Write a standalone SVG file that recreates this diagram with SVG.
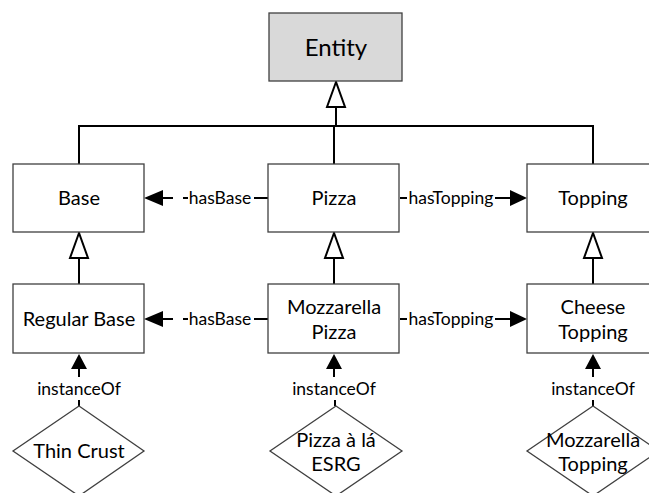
<svg xmlns="http://www.w3.org/2000/svg" width="649" height="493" viewBox="0 0 649 493">
  <style>
    .box { fill: #ffffff; stroke: #404040; stroke-width: 1.3; }
    .entity { fill: #d9d9d9; stroke: #404040; stroke-width: 1.3; }
    .lbl { font-family: Lato, "Liberation Sans", sans-serif; font-size: 20px; fill: #000; text-anchor: middle; }
    .big { font-size: 24px; }
    .elbl { font-family: Lato, "Liberation Sans", sans-serif; font-size: 17.5px; fill: #000; text-anchor: middle; }
    .wire { fill: none; stroke: #000; stroke-width: 2; }
    .gen { fill: #ffffff; stroke: #000; stroke-width: 2; stroke-linejoin: miter; }
    .head { fill: #000; stroke: none; }
  </style>
  <rect width="649" height="493" fill="#ffffff"/>

  <g id="connectors">
    <!-- generalisation to Entity -->
    <path class="wire" d="M79 164 V126 H593 V164"/>
    <path class="wire" d="M336 107 V127 M334 126 V164"/>
    <polygon class="gen" points="336,82 327,107 345,107"/>

    <!-- generalisation between class rows -->
    <path class="wire" d="M79 258 V284 M334 258 V284 M593 258 V284"/>
    <polygon class="gen" points="79,233 70,258 88,258"/>
    <polygon class="gen" points="334,233 325,258 343,258"/>
    <polygon class="gen" points="593,233 584,258 602,258"/>

    <!-- hasBase (top row) -->
    <path class="wire" d="M162 198 H173 M183 198 H188 M254 198 H268"/>
    <polygon class="head" points="144,198 163,190 163,206"/>
    <text class="elbl" x="220" y="204">hasBase</text>

    <!-- hasTopping (top row) -->
    <path class="wire" d="M400 198 H407 M495 198 H512"/>
    <polygon class="head" points="527,198 510,190 510,206"/>
    <text class="elbl" x="451" y="204">hasTopping</text>

    <!-- hasBase (bottom row) -->
    <path class="wire" d="M162 319 H173 M183 319 H188 M254 319 H268"/>
    <polygon class="head" points="144,319 163,311 163,327"/>
    <text class="elbl" x="220" y="325">hasBase</text>

    <!-- hasTopping (bottom row) -->
    <path class="wire" d="M400 319 H407 M495 319 H512"/>
    <polygon class="head" points="527,319 510,311 510,327"/>
    <text class="elbl" x="451" y="325">hasTopping</text>

    <!-- instanceOf links -->
    <path class="wire" d="M79 368 V377 M79 400 V406"/>
    <polygon class="head" points="79,354 71,369 87,369"/>
    <text class="elbl" x="79" y="395">instanceOf</text>

    <path class="wire" d="M334 368 V377 M335 400 V406"/>
    <polygon class="head" points="334,354 326,369 342,369"/>
    <text class="elbl" x="334" y="395">instanceOf</text>

    <path class="wire" d="M593 368 V377 M593 400 V406"/>
    <polygon class="head" points="593,354 585,369 601,369"/>
    <text class="elbl" x="593" y="395">instanceOf</text>
  </g>

  <g id="entity">
    <rect class="entity" x="269" y="13" width="133" height="68"/>
    <text class="lbl big" x="336" y="56">Entity</text>
  </g>

  <g id="base">
    <rect class="box" x="13" y="164" width="131" height="68"/>
    <text class="lbl" x="79" y="205">Base</text>
  </g>

  <g id="pizza">
    <rect class="box" x="268" y="164" width="131" height="68"/>
    <text class="lbl" x="334" y="205">Pizza</text>
  </g>

  <g id="topping">
    <rect class="box" x="527" y="164" width="131" height="68"/>
    <text class="lbl" x="593" y="205">Topping</text>
  </g>

  <g id="regular-base">
    <rect class="box" x="13" y="284" width="131" height="69"/>
    <text class="lbl" x="79" y="326">Regular Base</text>
  </g>

  <g id="mozzarella-pizza">
    <rect class="box" x="268" y="284" width="131" height="69"/>
    <text class="lbl" x="334" y="314">Mozzarella</text>
    <text class="lbl" x="334" y="339">Pizza</text>
  </g>

  <g id="cheese-topping">
    <rect class="box" x="527" y="284" width="131" height="69"/>
    <text class="lbl" x="593" y="314">Cheese</text>
    <text class="lbl" x="593" y="339">Topping</text>
  </g>

  <g id="thin-crust">
    <polygon class="box" points="79,406 144,451 79,496 13,451"/>
    <text class="lbl" x="79" y="458">Thin Crust</text>
  </g>

  <g id="pizza-a-la-esrg">
    <polygon class="box" points="336,406 402,451 336,496 270,451"/>
    <text class="lbl" x="336" y="447">Pizza à lá</text>
    <text class="lbl" x="336" y="471">ESRG</text>
  </g>

  <g id="mozzarella-topping">
    <polygon class="box" points="593,406 659,451 593,496 527,451"/>
    <text class="lbl" x="593" y="447">Mozzarella</text>
    <text class="lbl" x="593" y="471">Topping</text>
  </g>
</svg>
